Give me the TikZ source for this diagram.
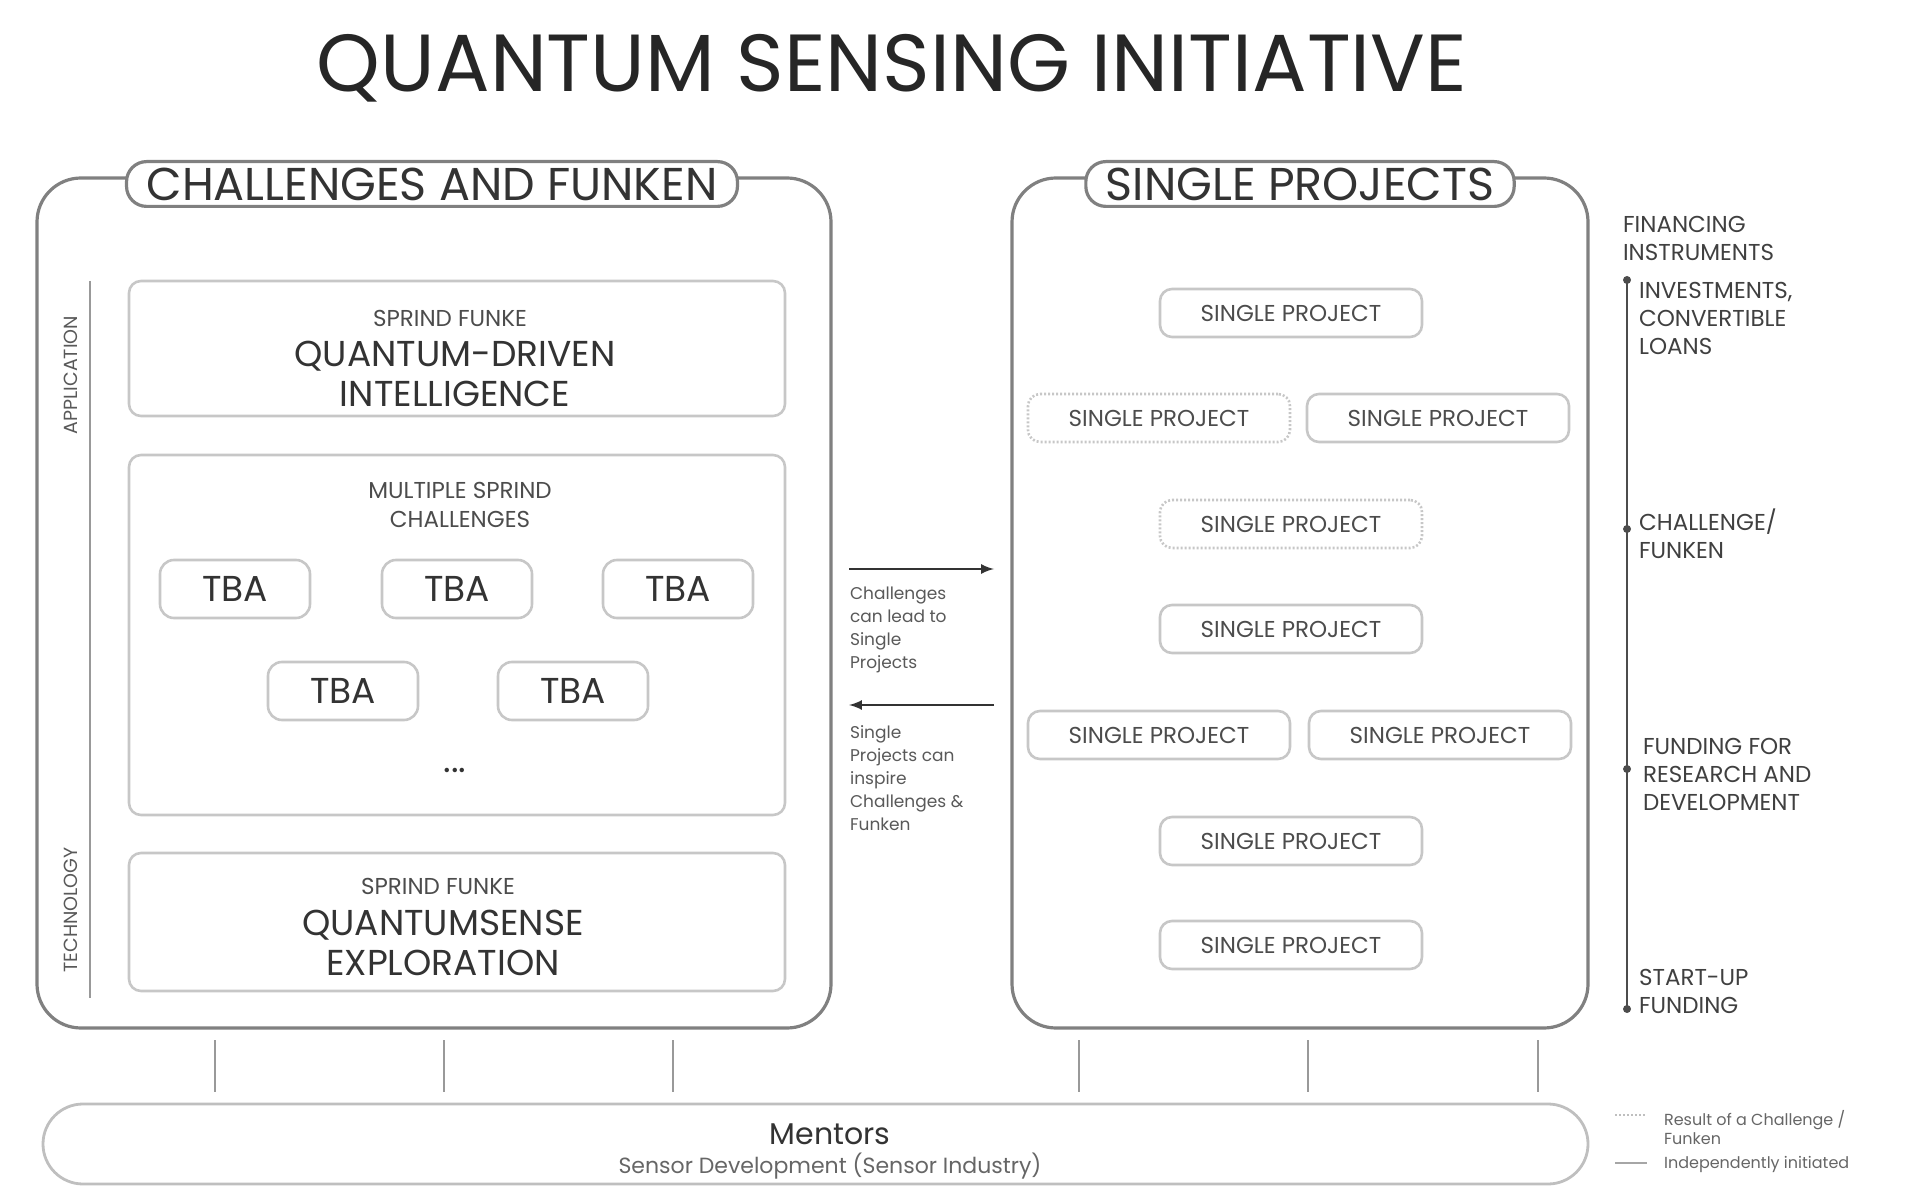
\documentclass[tikz,border=0pt]{standalone}
\usepackage{fontspec}
\setmainfont{Poppins}
\begin{document}
\begin{tikzpicture}[x=0.5pt,y=-0.5pt,
  big/.style={draw=black!50,line width=1.6pt,rounded corners=22pt},
  pill/.style={draw=black!50,line width=1.6pt,fill=white,rounded corners=10pt,inner xsep=10pt,inner ysep=3pt,font=\fontsize{23}{25}\selectfont,text=black!80},
  inner/.style={draw=black!22,line width=1.3pt,rounded corners=6pt},
  tba/.style={draw=black!22,line width=1.3pt,rounded corners=7pt,minimum width=75pt,minimum height=29pt,font=\fontsize{18}{20}\selectfont,text=black!80},
  sp/.style={draw=black!22,line width=1.3pt,rounded corners=6pt,minimum width=131pt,minimum height=24pt,font=\fontsize{11.5}{13}\selectfont,text=black!70},
  spd/.style={sp,dash pattern=on 1pt off 1pt},
  lbl/.style={align=left,anchor=west,text=black!75,font=\fontsize{11.5}{14}\selectfont},
  small/.style={align=left,anchor=north west,text=black!65,font=\fontsize{8.5}{11.5}\selectfont},
  tick/.style={draw=black!40,line width=0.8pt},
  arr/.style={draw=black!80,line width=1.2pt,-latex}]
\useasboundingbox (0,0) rectangle (1920,1202);
\node[text=black!85,font=\fontsize{40.5}{42}\selectfont] (title) at (892,68) {QUANTUM SENSING INITIATIVE};
% left
\draw[big] (37,178) rectangle (831,1028);
\node[pill] (lt) at (432,184) {CHALLENGES AND FUNKEN};
\draw[inner] (129,281) rectangle (785,416);
\node[text=black!70,font=\fontsize{11.5}{13}\selectfont] (f1) at (450,318) {SPRIND FUNKE};
\node[align=center,text=black!80,font=\fontsize{18}{20}\selectfont] (q1) at (455,374) {QUANTUM-DRIVEN\\INTELLIGENCE};
\draw[inner] (129,455) rectangle (785,815);
\node[align=center,text=black!70,font=\fontsize{11.5}{14.5}\selectfont] (mc) at (460,505) {MULTIPLE SPRIND\\CHALLENGES};
\node[tba] (t1) at (235,589) {TBA};
\node[tba] (t2) at (457,589) {TBA};
\node[tba] (t3) at (678,589) {TBA};
\node[tba] (t4) at (343,691) {TBA};
\node[tba] (t5) at (573,691) {TBA};
\node[text=black!80,font=\fontsize{18}{20}\selectfont] (dots) at (455,770) {...};
\draw[inner] (129,853) rectangle (785,991);
\node[text=black!70,font=\fontsize{11.5}{13}\selectfont] (f2) at (438,886) {SPRIND FUNKE};
\node[align=center,text=black!80,font=\fontsize{18}{20}\selectfont] (q2) at (443,943) {QUANTUMSENSE\\EXPLORATION};
\node[rotate=90,text=black!65,font=\fontsize{9.5}{11}\selectfont] (app) at (71,375) {APPLICATION};
\node[rotate=90,text=black!65,font=\fontsize{9.5}{11}\selectfont] (tec) at (71,910) {TECHNOLOGY};
\coordinate (va) at (90,281); \coordinate (vb) at (90,998);
\draw[draw=black!40,line width=0.8pt] (va) -- (vb);
% arrows
\coordinate (a1) at (849,569); \coordinate (a2) at (994,569);
\draw[arr] (a1) -- (a2);
\node[small] (at1) at (843,580) {Challenges\\can lead to\\Single\\Projects};
\coordinate (b1) at (994,705); \coordinate (b2) at (849,705);
\draw[arr] (b1) -- (b2);
\node[small] (at2) at (843,718) {Single\\Projects can\\inspire\\Challenges \&\\Funken};
% right
\draw[big] (1012,178) rectangle (1588,1028);
\node[pill] (rt) at (1300,184) {SINGLE PROJECTS};
\node[sp] (s1) at (1291,313) {SINGLE PROJECT};
\node[spd] (s2) at (1159,418) {SINGLE PROJECT};
\node[sp] (s3) at (1438,418) {SINGLE PROJECT};
\node[spd] (s4) at (1291,524) {SINGLE PROJECT};
\node[sp] (s5) at (1291,629) {SINGLE PROJECT};
\node[sp] (s6) at (1159,735) {SINGLE PROJECT};
\node[sp] (s7) at (1440,735) {SINGLE PROJECT};
\node[sp] (s8) at (1291,841) {SINGLE PROJECT};
\node[sp] (s9) at (1291,945) {SINGLE PROJECT};
% timeline
\node[lbl] (fi) at (1616,238) {FINANCING\\INSTRUMENTS};
\coordinate (ta) at (1627,280); \coordinate (tb) at (1627,1009);
\draw[draw=black!70,line width=1pt] (ta) -- (tb);
\foreach \yy in {280,529,769,1009} \fill[black!70] (1627,\yy) circle (2pt);
\node[lbl] (l1) at (1632,318) {INVESTMENTS,\\CONVERTIBLE\\LOANS};
\node[lbl] (l2) at (1632,534) {CHALLENGE/\\FUNKEN};
\node[lbl] (l3) at (1636,774) {FUNDING FOR\\RESEARCH AND\\DEVELOPMENT};
\node[lbl] (l4) at (1632,991) {START-UP\\FUNDING};
% mentors
\draw[draw=black!25,line width=1.4pt,rounded corners=20pt] (43,1104) rectangle (1588,1184);
\node[text=black!80,font=\fontsize{15}{17}\selectfont] (m) at (830,1134) {Mentors};
\node[text=black!60,font=\fontsize{11}{13}\selectfont] (ms) at (830,1166) {Sensor Development (Sensor Industry)};
\foreach \xx in {215,444,673,1079,1308,1538} \draw[tick] (\xx,1040) -- (\xx,1092);
% legend
\coordinate (g1) at (1615,1115); \coordinate (g2) at (1647,1115);
\draw[draw=black!25,line width=1pt,dash pattern=on 1pt off 1pt] (g1) -- (g2);
\coordinate (g3) at (1615,1163); \coordinate (g4) at (1647,1163);
\draw[draw=black!35,line width=1pt] (g3) -- (g4);
\node[small,anchor=west,text=black!60,font=\fontsize{8}{9.5}\selectfont] (lg1) at (1657,1128) {Result of a Challenge /\\Funken};
\node[small,anchor=west,text=black!60,font=\fontsize{8}{9.5}\selectfont] (lg2) at (1657,1164) {Independently initiated};
\end{tikzpicture}
\end{document}
